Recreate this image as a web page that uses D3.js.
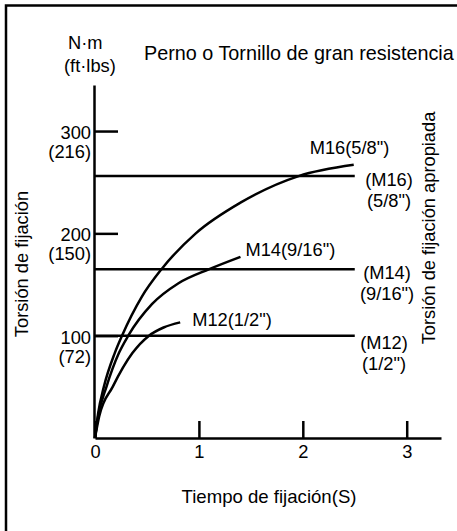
<!DOCTYPE html>
<html>
<head>
<meta charset="utf-8">
<script src="https://cdn.jsdelivr.net/npm/d3@7"></script>
<style>
  body { margin: 0; background: #fff; }
  svg text { font-family: "Liberation Sans", Arial, Helvetica, sans-serif; fill: #000; }
</style>
</head>
<body>
<div class="chart"></div>
<script>
// tightening torque vs tightening time
var boltNames = ["M16(5/8\")", "M14(9/16\")", "M12(1/2\")"];
var boltShort = ["(M16)", "(M14)", "(M12)"];
var boltInch = ["(5/8\")", "(9/16\")", "(1/2\")"];

var m16Time = [0, 0.03, 0.085, 0.19, 0.26, 0.45, 0.64, 0.97, 1.4, 1.96, 2.49];
var m16Torque = [0, 24, 50, 83, 100, 138, 165, 200, 230, 256, 267];

var m14Time = [0, 0.03, 0.11, 0.23, 0.32, 0.55, 0.8, 1.1, 1.4];
var m14Torque = [0, 21, 50, 83, 100, 131, 151, 165, 177];

var m12Time = [0, 0.04, 0.17, 0.36, 0.52, 0.66, 0.82];
var m12Torque = [0, 21, 50, 83, 100, 108, 113];

// proper tightening torque (N·m), horizontal reference lines
var properTorque = [256, 165, 100];
var properEnd = 2.5;

var xTicks = [0, 1, 2, 3];
var yTicks = [100, 200, 300];
var yTicksFtLbs = ["(72)", "(150)", "(216)"];

var svgWidth = 457;
var svgHeight = 531;
var fontSize = 18.3;

var svg = d3.select(".chart")
  .append("svg")
  .attr("width", svgWidth)
  .attr("height", svgHeight);

// frame (top and left only)
svg.append("path")
  .attr("d", "M6,531 L6,5.5 L457,5.5")
  .attr("fill", "none")
  .attr("stroke", "#000")
  .attr("stroke-width", 2.5);

var xScale = d3.scaleLinear().domain([0, 3.33]).range([95, 441]);
var yScale = d3.scaleLinear().domain([0, 345]).range([438, 85]);

var bottomAxis = d3.axisBottom(xScale)
  .tickValues(xTicks)
  .tickFormat(d3.format("d"))
  .tickSizeInner(-17)
  .tickSizeOuter(0)
  .tickPadding(7);

var leftAxis = d3.axisLeft(yScale)
  .tickValues(yTicks)
  .tickSizeInner(-24)
  .tickSizeOuter(0)
  .tickPadding(3);

var xAxisG = svg.append("g")
  .attr("transform", "translate(0,438)")
  .call(bottomAxis);

var yAxisG = svg.append("g")
  .attr("transform", "translate(94,0)")
  .call(leftAxis);

[xAxisG, yAxisG].forEach(function(g) {
  g.attr("font-family", null).attr("font-size", null);
  g.selectAll("path, line").attr("stroke", "#000").attr("stroke-width", 2.5);
  g.selectAll("text").style("font-size", fontSize + "px").attr("fill", "#000");
});

// y tick labels: N·m on top, ft·lbs below
yAxisG.selectAll(".tick text")
  .attr("dy", "0.36em")
  .attr("y", 1);

yAxisG.selectAll(".tick")
  .append("text")
  .attr("x", -3)
  .attr("y", 20)
  .attr("dy", "0.36em")
  .attr("text-anchor", "end")
  .style("font-size", fontSize + "px")
  .text(function(d) { return yTicksFtLbs[yTicks.indexOf(d)]; });

// proper torque lines
var chart = svg.append("g");

chart.selectAll(".proper")
  .data(properTorque)
  .enter()
  .append("line")
  .attr("class", "proper")
  .attr("x1", xScale(0) - 1)
  .attr("x2", xScale(properEnd))
  .attr("y1", function(d) { return yScale(d); })
  .attr("y2", function(d) { return yScale(d); })
  .attr("stroke", "#000")
  .attr("stroke-width", 2.5);

var rightOffsets = [3, 3, 7];
var rightX = [389, 387, 384];

chart.selectAll(".proper-label")
  .data(properTorque)
  .enter()
  .append("text")
  .attr("class", "proper-label")
  .attr("text-anchor", "middle")
  .style("font-size", fontSize + "px")
  .each(function(d, i) {
    var t = d3.select(this);
    var y = yScale(d) + rightOffsets[i];
    t.append("tspan").attr("x", rightX[i]).attr("y", y).attr("dy", "0.36em").text(boltShort[i]);
    t.append("tspan").attr("x", rightX[i]).attr("y", y + 21).attr("dy", "0.36em").text(boltInch[i]);
  });

// tightening curves
var curves = [
  { name: boltNames[0], time: m16Time, torque: m16Torque, dx: -44, dy: -17 },
  { name: boltNames[1], time: m14Time, torque: m14Torque, dx: 5, dy: -7 },
  { name: boltNames[2], time: m12Time, torque: m12Torque, dx: 12, dy: -3 }
];

var line = d3.line()
  .x(function(d) { return xScale(d[0]); })
  .y(function(d) { return yScale(d[1]); })
  .curve(d3.curveMonotoneX);

curves.forEach(function(c) {
  var pts = c.time.map(function(t, i) { return [t, c.torque[i]]; });
  chart.append("path")
    .datum(pts)
    .attr("d", line)
    .attr("fill", "none")
    .attr("stroke", "#000")
    .attr("stroke-width", 2.5);

  var last = pts[pts.length - 1];
  chart.append("text")
    .attr("x", xScale(last[0]) + c.dx)
    .attr("y", yScale(last[1]) + c.dy)
    .attr("dy", "0.36em")
    .style("font-size", fontSize + "px")
    .text(c.name);
});

// titles
svg.append("text")
  .attr("x", 68).attr("y", 42).attr("dy", "0.36em")
  .style("font-size", fontSize + "px")
  .text("N·m");

svg.append("text")
  .attr("x", 64).attr("y", 65).attr("dy", "0.36em")
  .style("font-size", fontSize + "px")
  .text("(ft·lbs)");

svg.append("text")
  .attr("x", 144).attr("y", 53).attr("dy", "0.36em")
  .style("font-size", "19.8px")
  .text("Perno o Tornillo de gran resistencia");

svg.append("text")
  .attr("x", 269).attr("y", 496).attr("dy", "0.36em")
  .attr("text-anchor", "middle")
  .style("font-size", "18.6px")
  .text("Tiempo de fijación(S)");

svg.append("text")
  .attr("transform", "translate(21,264) rotate(-90)")
  .attr("dy", "0.36em")
  .attr("text-anchor", "middle")
  .style("font-size", fontSize + "px")
  .text("Torsión de fijación");

svg.append("text")
  .attr("transform", "translate(428,228) rotate(-90)")
  .attr("dy", "0.36em")
  .attr("text-anchor", "middle")
  .style("font-size", fontSize + "px")
  .text("Torsión de fijación apropiada");
</script>
</body>
</html>
